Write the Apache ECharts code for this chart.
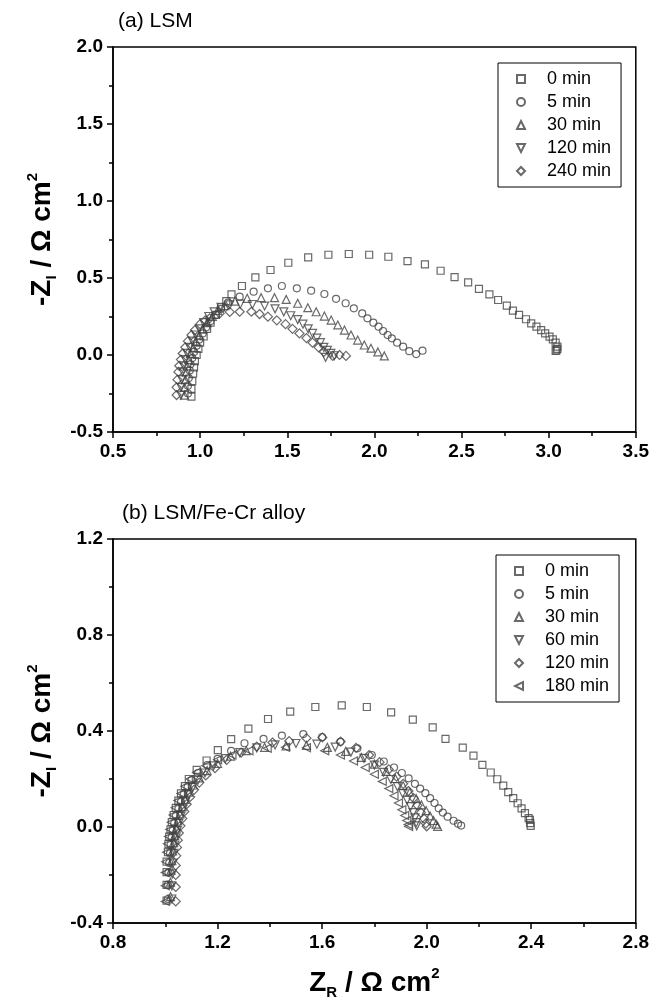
<!DOCTYPE html>
<html>
<head>
<meta charset="utf-8">
<script src="https://cdn.jsdelivr.net/npm/echarts@6/dist/echarts.min.js"></script>
<style>
  html, body { margin: 0; padding: 0; background: #fff; }
  #chart { width: 652px; height: 1005px; }
</style>
</head>
<body>
<div id="chart"></div>
<script>
// (a) LSM  -- [Z_R, -Z_I] in ohm cm2
const namesA = ['0 min', '5 min', '30 min', '120 min', '240 min']
const lsm0 = [[0.95,-0.27],[0.95,-0.22],[0.955,-0.17],[0.96,-0.12],[0.965,-0.08],[0.97,-0.04],[0.98,0.0],[0.99,0.04],[1.0,0.08],[1.02,0.12],[1.04,0.17],[1.06,0.21],[1.09,0.26],[1.12,0.31],[1.15,0.35],[1.18,0.394],[1.24,0.448],[1.317,0.504],[1.404,0.552],[1.506,0.599],[1.62,0.634],[1.736,0.651],[1.853,0.656],[1.97,0.651],[2.08,0.638],[2.19,0.61],[2.29,0.589],[2.38,0.547],[2.46,0.506],[2.538,0.472],[2.6,0.429],[2.66,0.394],[2.71,0.357],[2.76,0.32],[2.795,0.288],[2.83,0.26],[2.87,0.232],[2.9,0.206],[2.93,0.184],[2.957,0.162],[2.98,0.141],[3.005,0.119],[3.024,0.102],[3.04,0.08],[3.05,0.054],[3.05,0.04],[3.045,0.03],[3.04,0.026]]
const lsm5 = [[0.93,-0.25],[0.93,-0.2],[0.935,-0.15],[0.94,-0.1],[0.945,-0.06],[0.955,-0.02],[0.965,0.02],[0.98,0.06],[0.995,0.1],[1.015,0.14],[1.035,0.18],[1.06,0.22],[1.09,0.26],[1.12,0.3],[1.16,0.34],[1.227,0.379],[1.307,0.411],[1.389,0.433],[1.469,0.448],[1.555,0.433],[1.637,0.418],[1.713,0.396],[1.78,0.365],[1.835,0.336],[1.882,0.303],[1.93,0.27],[1.96,0.238],[1.994,0.21],[2.024,0.184],[2.05,0.156],[2.076,0.13],[2.1,0.108],[2.13,0.08],[2.165,0.054],[2.2,0.025],[2.24,0.006],[2.276,0.028]]
const lsm30 = [[0.91,-0.26],[0.91,-0.21],[0.915,-0.16],[0.92,-0.11],[0.925,-0.07],[0.935,-0.03],[0.945,0.01],[0.96,0.05],[0.975,0.09],[0.995,0.13],[1.015,0.17],[1.04,0.21],[1.07,0.25],[1.1,0.29],[1.14,0.32],[1.2,0.35],[1.27,0.368],[1.35,0.372],[1.427,0.372],[1.494,0.361],[1.56,0.336],[1.618,0.307],[1.666,0.281],[1.713,0.253],[1.752,0.227],[1.79,0.195],[1.828,0.162],[1.866,0.13],[1.904,0.097],[1.942,0.065],[1.98,0.044],[2.02,0.02],[2.057,-0.006]]
const lsm120 = [[0.89,-0.26],[0.89,-0.21],[0.895,-0.16],[0.9,-0.11],[0.905,-0.07],[0.915,-0.03],[0.925,0.01],[0.94,0.05],[0.955,0.09],[0.975,0.13],[0.995,0.17],[1.02,0.21],[1.05,0.25],[1.08,0.28],[1.12,0.31],[1.17,0.325],[1.23,0.33],[1.3,0.328],[1.37,0.318],[1.43,0.3],[1.48,0.28],[1.52,0.255],[1.56,0.23],[1.59,0.2],[1.62,0.17],[1.645,0.14],[1.67,0.11],[1.69,0.08],[1.71,0.05],[1.73,0.03],[1.75,0.01],[1.77,-0.005],[1.72,-0.015]]
const lsm240 = [[0.865,-0.26],[0.865,-0.21],[0.87,-0.16],[0.875,-0.11],[0.88,-0.07],[0.89,-0.03],[0.9,0.01],[0.915,0.05],[0.93,0.09],[0.95,0.13],[0.97,0.162],[1.0,0.2],[1.03,0.225],[1.055,0.238],[1.112,0.27],[1.17,0.28],[1.227,0.281],[1.294,0.281],[1.341,0.266],[1.389,0.249],[1.44,0.225],[1.49,0.2],[1.53,0.17],[1.57,0.14],[1.61,0.11],[1.645,0.08],[1.68,0.05],[1.71,0.02],[1.761,-0.006],[1.8,0.0],[1.837,-0.006]]

// (b) LSM/Fe-Cr alloy
const namesB = ['0 min', '5 min', '30 min', '60 min', '120 min', '180 min']
const alloy0 = [[1.005,-0.307],[1.005,-0.241],[1.005,-0.188],[1.005,-0.144],[1.01,-0.105],[1.012,-0.07],[1.015,-0.04],[1.02,-0.01],[1.025,0.02],[1.032,0.05],[1.04,0.08],[1.05,0.11],[1.06,0.14],[1.075,0.17],[1.09,0.2],[1.12,0.238],[1.158,0.277],[1.201,0.32],[1.252,0.366],[1.318,0.41],[1.393,0.45],[1.478,0.481],[1.574,0.5],[1.675,0.507],[1.771,0.5],[1.864,0.478],[1.947,0.447],[2.023,0.415],[2.072,0.367],[2.138,0.331],[2.179,0.297],[2.213,0.259],[2.245,0.227],[2.27,0.199],[2.293,0.172],[2.312,0.145],[2.331,0.12],[2.348,0.099],[2.363,0.078],[2.376,0.058],[2.39,0.037],[2.396,0.016],[2.398,0.005],[2.395,0.03]]
const alloy5 = [[1.01,-0.3],[1.01,-0.24],[1.012,-0.19],[1.015,-0.15],[1.018,-0.11],[1.02,-0.075],[1.024,-0.045],[1.028,-0.015],[1.034,0.015],[1.04,0.045],[1.05,0.075],[1.06,0.105],[1.07,0.135],[1.085,0.165],[1.1,0.195],[1.125,0.225],[1.16,0.258],[1.2,0.284],[1.252,0.317],[1.303,0.349],[1.376,0.367],[1.446,0.381],[1.528,0.387],[1.6,0.375],[1.67,0.355],[1.735,0.328],[1.79,0.3],[1.836,0.273],[1.875,0.248],[1.905,0.225],[1.931,0.203],[1.955,0.18],[1.975,0.16],[1.995,0.141],[2.013,0.12],[2.03,0.1],[2.046,0.078],[2.062,0.06],[2.08,0.043],[2.103,0.026],[2.12,0.014],[2.132,0.006]]
const alloy30 = [[1.02,-0.29],[1.02,-0.23],[1.022,-0.18],[1.025,-0.14],[1.028,-0.1],[1.032,-0.065],[1.036,-0.035],[1.042,-0.005],[1.048,0.025],[1.056,0.055],[1.065,0.085],[1.076,0.115],[1.09,0.145],[1.107,0.175],[1.13,0.205],[1.16,0.235],[1.2,0.265],[1.25,0.295],[1.31,0.318],[1.38,0.332],[1.462,0.338],[1.54,0.34],[1.62,0.332],[1.69,0.315],[1.75,0.29],[1.8,0.262],[1.845,0.232],[1.88,0.202],[1.91,0.172],[1.935,0.145],[1.96,0.118],[1.98,0.092],[1.998,0.068],[2.013,0.046],[2.026,0.027],[2.036,0.012],[2.042,0.003]]
const alloy60 = [[1.025,-0.3],[1.025,-0.245],[1.027,-0.195],[1.03,-0.15],[1.033,-0.11],[1.037,-0.075],[1.041,-0.045],[1.046,-0.015],[1.052,0.015],[1.06,0.045],[1.068,0.075],[1.078,0.105],[1.09,0.135],[1.105,0.165],[1.125,0.195],[1.152,0.225],[1.185,0.255],[1.23,0.285],[1.285,0.31],[1.35,0.33],[1.42,0.342],[1.5,0.348],[1.58,0.345],[1.65,0.333],[1.71,0.312],[1.76,0.286],[1.8,0.258],[1.835,0.228],[1.863,0.198],[1.888,0.168],[1.908,0.14],[1.925,0.112],[1.938,0.085],[1.948,0.06],[1.955,0.038],[1.96,0.018],[1.962,0.005]]
const alloy120 = [[1.04,-0.31],[1.04,-0.25],[1.04,-0.2],[1.04,-0.16],[1.042,-0.12],[1.045,-0.085],[1.048,-0.055],[1.052,-0.025],[1.058,0.005],[1.065,0.035],[1.073,0.065],[1.082,0.095],[1.095,0.125],[1.11,0.155],[1.13,0.185],[1.155,0.215],[1.19,0.245],[1.235,0.28],[1.29,0.31],[1.35,0.335],[1.41,0.352],[1.474,0.358],[1.54,0.37],[1.601,0.373],[1.671,0.356],[1.73,0.33],[1.78,0.3],[1.82,0.27],[1.855,0.24],[1.885,0.21],[1.91,0.18],[1.93,0.15],[1.95,0.12],[1.965,0.09],[1.978,0.06],[1.99,0.035],[1.997,0.015],[2.0,0.003]]
const alloy180 = [[1.0,-0.31],[1.0,-0.245],[1.0,-0.19],[1.002,-0.145],[1.005,-0.105],[1.008,-0.07],[1.012,-0.04],[1.017,-0.01],[1.023,0.02],[1.03,0.05],[1.038,0.08],[1.048,0.11],[1.06,0.14],[1.075,0.17],[1.095,0.2],[1.12,0.228],[1.155,0.255],[1.2,0.28],[1.255,0.3],[1.32,0.318],[1.39,0.328],[1.46,0.332],[1.54,0.33],[1.61,0.318],[1.67,0.3],[1.72,0.275],[1.765,0.248],[1.8,0.22],[1.83,0.19],[1.855,0.16],[1.875,0.13],[1.892,0.1],[1.905,0.072],[1.916,0.048],[1.924,0.027],[1.929,0.01],[1.931,0.002]]

// axis ticks
const xTicksA = [0.5, 1.0, 1.5, 2.0, 2.5, 3.0, 3.5]
const yTicksA = [-0.5, 0.0, 0.5, 1.0, 1.5, 2.0]
const xTicksB = [0.8, 1.2, 1.6, 2.0, 2.4, 2.8]
const yTicksB = [-0.4, 0.0, 0.4, 0.8, 1.2]

const FONT = '"Liberation Sans", Arial, sans-serif'
const SQ = 'path://M0,0L10,0L10,10L0,10Z'
const TU = 'path://M5,0L10,10L0,10Z'
const TD = 'path://M0,0L10,0L5,10Z'
const DI = 'path://M5,0L10,5L5,10L0,5Z'
const TL = 'path://M10,0L10,10L0,5Z'
const symbolsA = [SQ, 'circle', TU, TD, DI]
const symbolsB = [SQ, 'circle', TU, TD, DI, TL]
const sizesA = [7, 7, 8, 8, 9]
const sizesB = [7, 7, 8, 8, 9, 8]

const nameRich = {
  b: { fontSize: 28, fontWeight: 'bold', fontFamily: FONT, color: '#000', lineHeight: 34 },
  sub: { fontSize: 15, fontWeight: 'bold', fontFamily: FONT, color: '#000', lineHeight: 14, verticalAlign: 'bottom' },
  sup: { fontSize: 15, fontWeight: 'bold', fontFamily: FONT, color: '#000', lineHeight: 14, verticalAlign: 'top' }
}

function axis(ticks, gridIndex, extra) {
  return Object.assign({
    type: 'value',
    gridIndex: gridIndex,
    min: ticks[0],
    max: ticks[ticks.length - 1],
    interval: +(ticks[1] - ticks[0]).toFixed(2),
    axisLine: { show: true, onZero: false, lineStyle: { color: '#000', width: 1.5 } },
    axisTick: { show: true, inside: false, length: 6, lineStyle: { color: '#000', width: 1.5 } },
    minorTick: { show: true, splitNumber: 2, length: 4, lineStyle: { color: '#000', width: 1.5 } },
    splitLine: { show: false },
    axisLabel: {
      color: '#000', fontSize: 19, fontWeight: 'bold', fontFamily: FONT, margin: 10,
      formatter: v => v.toFixed(1)
    }
  }, extra)
}

function legendOf(names, symbols, left, top) {
  return {
    orient: 'vertical',
    left: left,
    top: top,
    padding: [7, 10, 7, 18],
    borderColor: '#000',
    borderWidth: 1,
    itemWidth: 42,
    itemHeight: 8,
    itemGap: 5,
    textStyle: { fontSize: 18, fontFamily: FONT, color: '#000', lineHeight: 18 },
    data: names.map((n, i) => ({ name: n, icon: symbols[i] })),
    selectedMode: false
  }
}

function makeSeries(list, names, symbols, sizes, g) {
  return list.map((d, i) => ({
    type: 'scatter',
    name: names[i],
    xAxisIndex: g,
    yAxisIndex: g,
    data: d,
    symbol: symbols[i],
    symbolSize: sizes[i],
    itemStyle: { color: 'rgba(255,255,255,0)', borderColor: '#444', borderWidth: 1.2 },
    emphasis: { disabled: true },
    silent: true
  }))
}

const myChart = echarts.init(document.getElementById('chart'))
myChart.setOption({
  animation: false,
  backgroundColor: '#fff',
  title: [
    { text: '(a) LSM', left: 118, top: 11, padding: 0, textStyle: { fontSize: 21, fontWeight: 'normal', fontFamily: FONT, color: '#000' } },
    { text: '(b) LSM/Fe-Cr alloy', left: 122, top: 503, padding: 0, textStyle: { fontSize: 21, fontWeight: 'normal', fontFamily: FONT, color: '#000' } }
  ],
  legend: [
    legendOf(namesA, symbolsA, 498, 63),
    legendOf(namesB, symbolsB, 496, 555)
  ],
  grid: [
    { left: 113, top: 47, width: 524, height: 385, show: true, borderColor: '#000', borderWidth: 1.5 },
    { left: 113, top: 539, width: 524, height: 384, show: true, borderColor: '#000', borderWidth: 1.5 }
  ],
  xAxis: [
    axis(xTicksA, 0),
    axis(xTicksB, 1, {
      name: '{b|Z}{sub|R}{b| / Ω cm}{sup|2}',
      nameLocation: 'middle',
      nameGap: 43,
      nameTextStyle: { rich: nameRich }
    })
  ],
  yAxis: [
    axis(yTicksA, 0, {
      name: '{b|-Z}{sub|I}{b| / Ω cm}{sup|2}',
      nameLocation: 'middle',
      nameGap: 54,
      nameTextStyle: { rich: nameRich }
    }),
    axis(yTicksB, 1, {
      name: '{b|-Z}{sub|I}{b| / Ω cm}{sup|2}',
      nameLocation: 'middle',
      nameGap: 54,
      nameTextStyle: { rich: nameRich }
    })
  ],
  series: makeSeries([lsm0, lsm5, lsm30, lsm120, lsm240], namesA, symbolsA, sizesA, 0)
    .concat(makeSeries([alloy0, alloy5, alloy30, alloy60, alloy120, alloy180], namesB, symbolsB, sizesB, 1))
})
window.onresize = function() {
  myChart.resize()
}
</script>
</body>
</html>
